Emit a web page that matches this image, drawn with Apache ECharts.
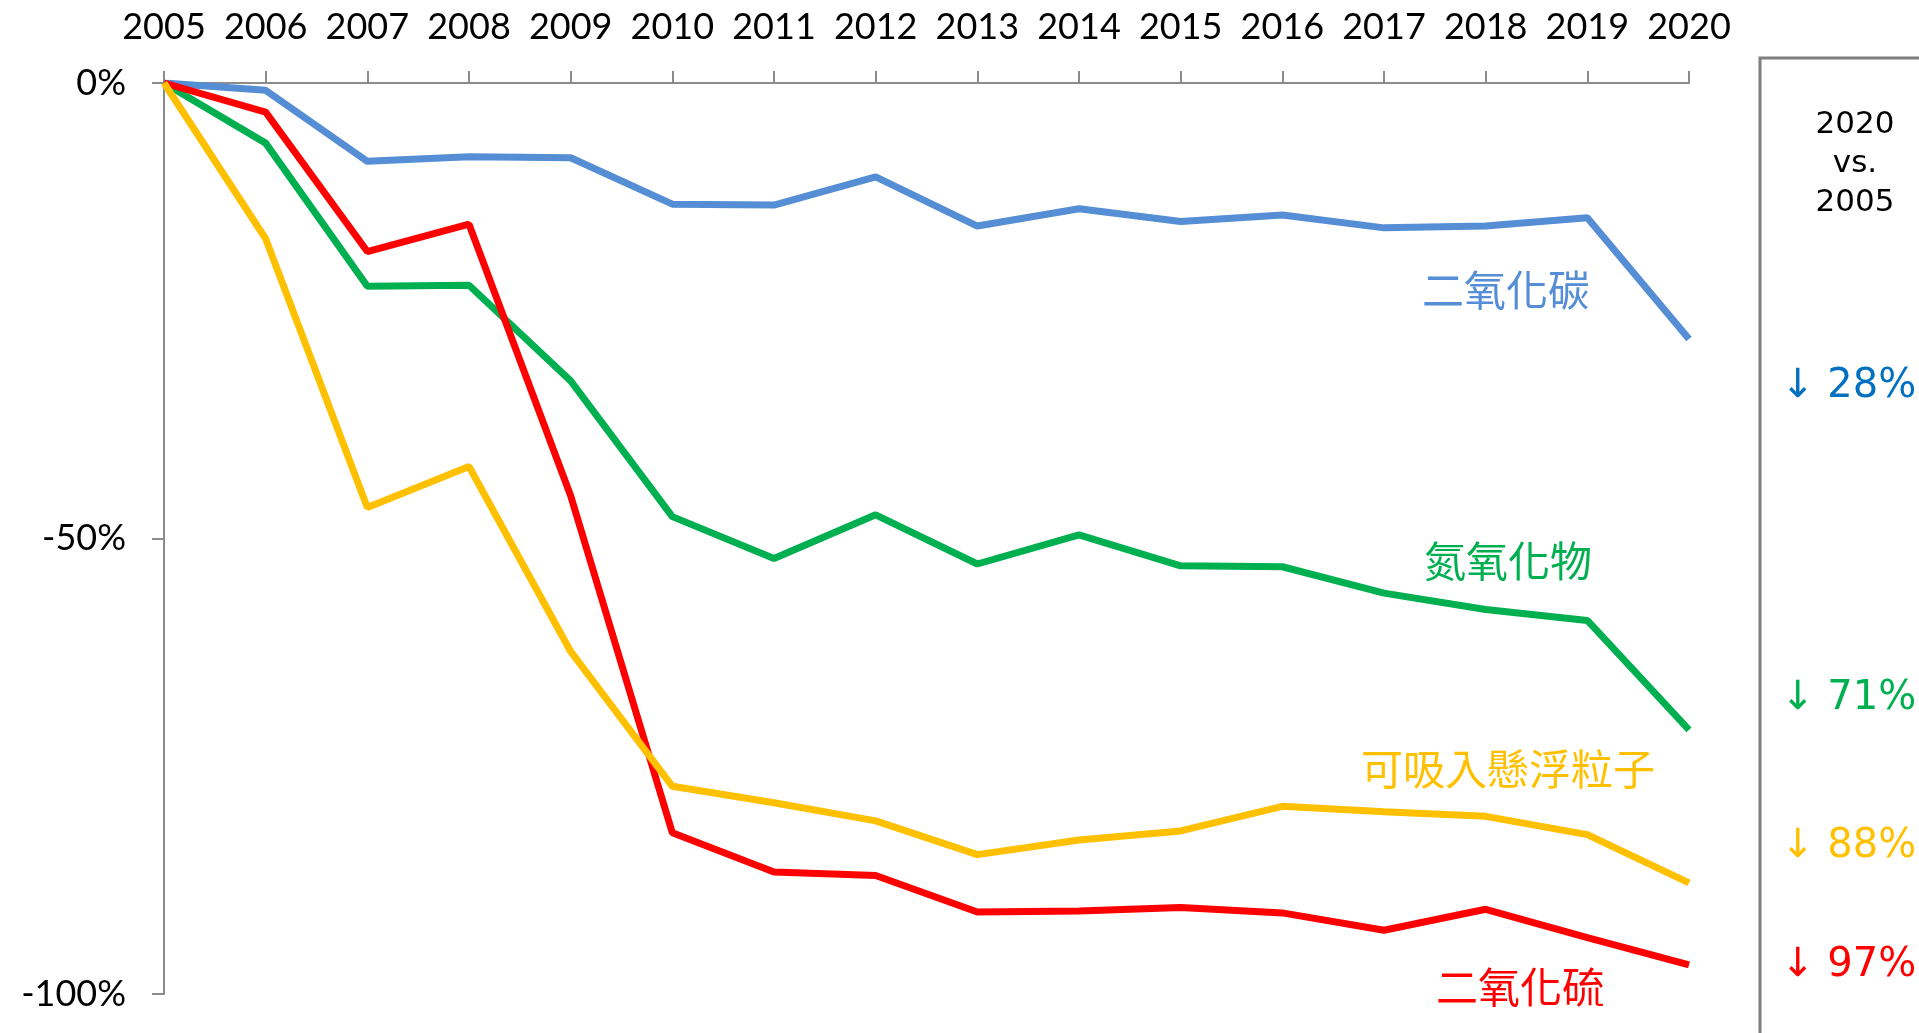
<!DOCTYPE html>
<html>
<head>
<meta charset="utf-8">
<script src="https://cdn.jsdelivr.net/npm/echarts@6/dist/echarts.min.js"></script>
<style>
  html, body { margin: 0; padding: 0; background: #fff; }
  #chart { width: 1919px; height: 1033px; }
</style>
</head>
<body>
<div id="chart"></div>
<script>
// years along the top axis
const years = ['2005', '2006', '2007', '2008', '2009', '2010', '2011', '2012',
  '2013', '2014', '2015', '2016', '2017', '2018', '2019', '2020'];

// % change vs 2005
const co2 = [0, -0.8, -8.6, -8.1, -8.2, -13.3, -13.4, -10.3, -15.7, -13.8, -15.2, -14.5, -15.9, -15.7, -14.8, -28.1];
const nox = [0, -6.6, -22.3, -22.2, -32.7, -47.6, -52.2, -47.4, -52.8, -49.6, -53.0, -53.1, -56.0, -57.8, -59.0, -71.0];
const so2 = [0, -3.2, -18.5, -15.5, -45.3, -82.3, -86.6, -87.0, -91.0, -90.9, -90.5, -91.1, -93.0, -90.7, -93.8, -96.8];
const pm10 = [0, -17.1, -46.6, -42.1, -62.4, -77.2, -79.0, -81.0, -84.7, -83.1, -82.1, -79.4, -80.0, -80.5, -82.5, -87.8];

const names = ['二氧化碳', '氮氧化物', '二氧化硫', '可吸入懸浮粒子'];
const summary = ['↓ 28%', '↓ 71%', '↓ 88%', '↓ 97%'];

const cjk = '"Noto Sans CJK TC", "Noto Sans", sans-serif';
const axisGrey = '#8c8c8c';

const chart = echarts.init(document.getElementById('chart'), null, { renderer: 'canvas' });

function line(name, data, color) {
  return {
    name: name,
    type: 'line',
    data: data,
    symbol: 'none',
    smooth: false,
    lineStyle: { color: color, width: 7 },
    animation: false
  };
}

function tag(text, x, y, color) {
  return {
    type: 'text',
    x: x,
    y: y,
    style: {
      text: text,
      fill: color,
      font: '42px ' + cjk,
      align: 'right',
      verticalAlign: 'middle'
    }
  };
}

function pct(text, y, color) {
  return {
    type: 'text',
    x: 1781,
    y: y,
    style: {
      text: text,
      fill: color,
      font: '40px "DejaVu Sans", sans-serif',
      align: 'left',
      verticalAlign: 'middle'
    }
  };
}

const option = {
  backgroundColor: '#fff',
  animation: false,
  grid: { left: 164, right: 230, top: 83, bottom: 39 },
  xAxis: {
    type: 'category',
    data: years,
    position: 'top',
    boundaryGap: false,
    axisLine: { lineStyle: { color: axisGrey, width: 2 } },
    axisTick: { length: 12, lineStyle: { color: axisGrey, width: 2 } },
    axisLabel: { margin: 38, color: '#000', fontSize: 36, fontFamily: 'Lato', interval: 0 },
    splitLine: { show: false }
  },
  yAxis: {
    type: 'value',
    min: -100,
    max: 0,
    interval: 50,
    axisLine: { show: true, lineStyle: { color: axisGrey, width: 2 } },
    axisTick: { show: true, length: 12, lineStyle: { color: axisGrey, width: 2 } },
    axisLabel: { margin: 38, color: '#000', fontSize: 36, fontFamily: 'Lato', formatter: '{value}%' },
    splitLine: { show: false }
  },
  series: [
    line(names[0], co2, '#558ed5'),
    line(names[1], nox, '#00b050'),
    line(names[2], so2, '#ff0000'),
    line(names[3], pm10, '#ffc000')
  ],
  graphic: [
    tag(names[0], 1590, 290, '#558ed5'),
    tag(names[1], 1592, 561, '#00b050'),
    tag(names[3], 1655, 769, '#ffc000'),
    tag(names[2], 1604, 987, '#ff0000'),
    {
      type: 'polyline',
      shape: { points: [[1760, 1033], [1760, 58], [1919, 58]] },
      style: { stroke: '#7f7f7f', lineWidth: 3, fill: null }
    },
    {
      type: 'text',
      x: 1855,
      y: 164,
      style: {
        text: '2020\nvs.\n2005',
        fill: '#000',
        font: '31px "DejaVu Sans", sans-serif',
        lineHeight: 39,
        align: 'center',
        verticalAlign: 'middle'
      }
    },
    pct(summary[0], 387, '#0070c0'),
    pct(summary[1], 699, '#00b050'),
    pct(summary[2], 847, '#ffc000'),
    pct(summary[3], 966, '#ff0000')
  ]
};

chart.setOption(option);
</script>
</body>
</html>
